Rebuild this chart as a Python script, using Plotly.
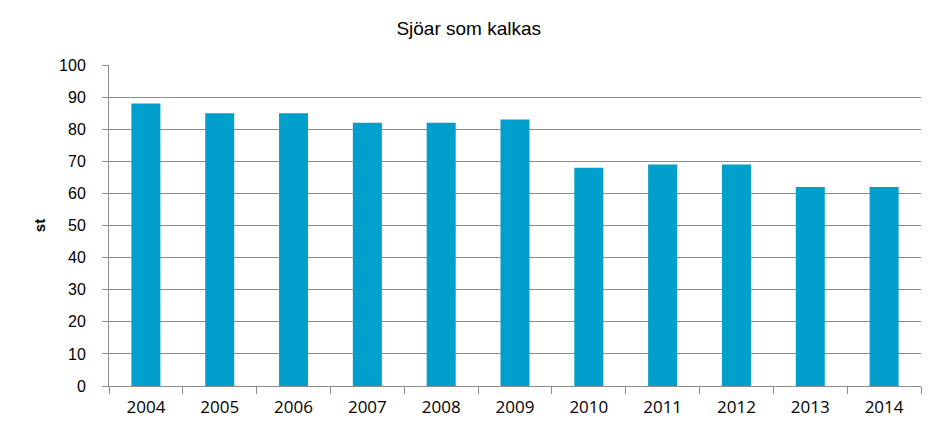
import plotly.graph_objects as go

years = ["2004", "2005", "2006", "2007", "2008", "2009", "2010", "2011", "2012", "2013", "2014"]
values = [88, 85, 85, 82, 82, 83, 68, 69, 69, 62, 62]
y_ticks = [0, 10, 20, 30, 40, 50, 60, 70, 80, 90, 100]

title_text = "Sjöar som kalkas"
y_title = "st"

fig = go.Figure()
fig.add_trace(go.Bar(x=years, y=values, marker=dict(color="#009FCC", line=dict(width=0))))

grid = "#8C8C8C"
fig.update_layout(
    width=945, height=438,
    margin=dict(l=109, r=24, t=65, b=52),
    paper_bgcolor="white", plot_bgcolor="white",
    bargap=0.607,
    showlegend=False,
    title=dict(text=title_text, xref="container", yref="container", x=0.496, y=0.936,
               xanchor="center", yanchor="middle",
               font=dict(family="Liberation Sans", size=19, color="black")),
    xaxis=dict(type="category", showgrid=False, showline=True, linecolor=grid, linewidth=1,
               ticks="outside", ticklen=7, tickcolor=grid, tickwidth=1, tickson="boundaries",
               tickfont=dict(family="Open Sans", size=17, color="black"),
               ticklabelstandoff=6),
    yaxis=dict(range=[0, 100], tickvals=y_ticks, showgrid=True, gridcolor=grid, gridwidth=1,
               showline=True, linecolor=grid, linewidth=1, zeroline=False,
               ticks="outside", ticklen=6, tickcolor=grid, tickwidth=1,
               tickfont=dict(family="Liberation Sans", size=16, color="black"),
               ticklabelstandoff=13,
               title=dict(text=y_title, standoff=9,
                          font=dict(family="Liberation Sans", size=15, color="black", weight="bold"))),
)

fig.write_html("out.html")
